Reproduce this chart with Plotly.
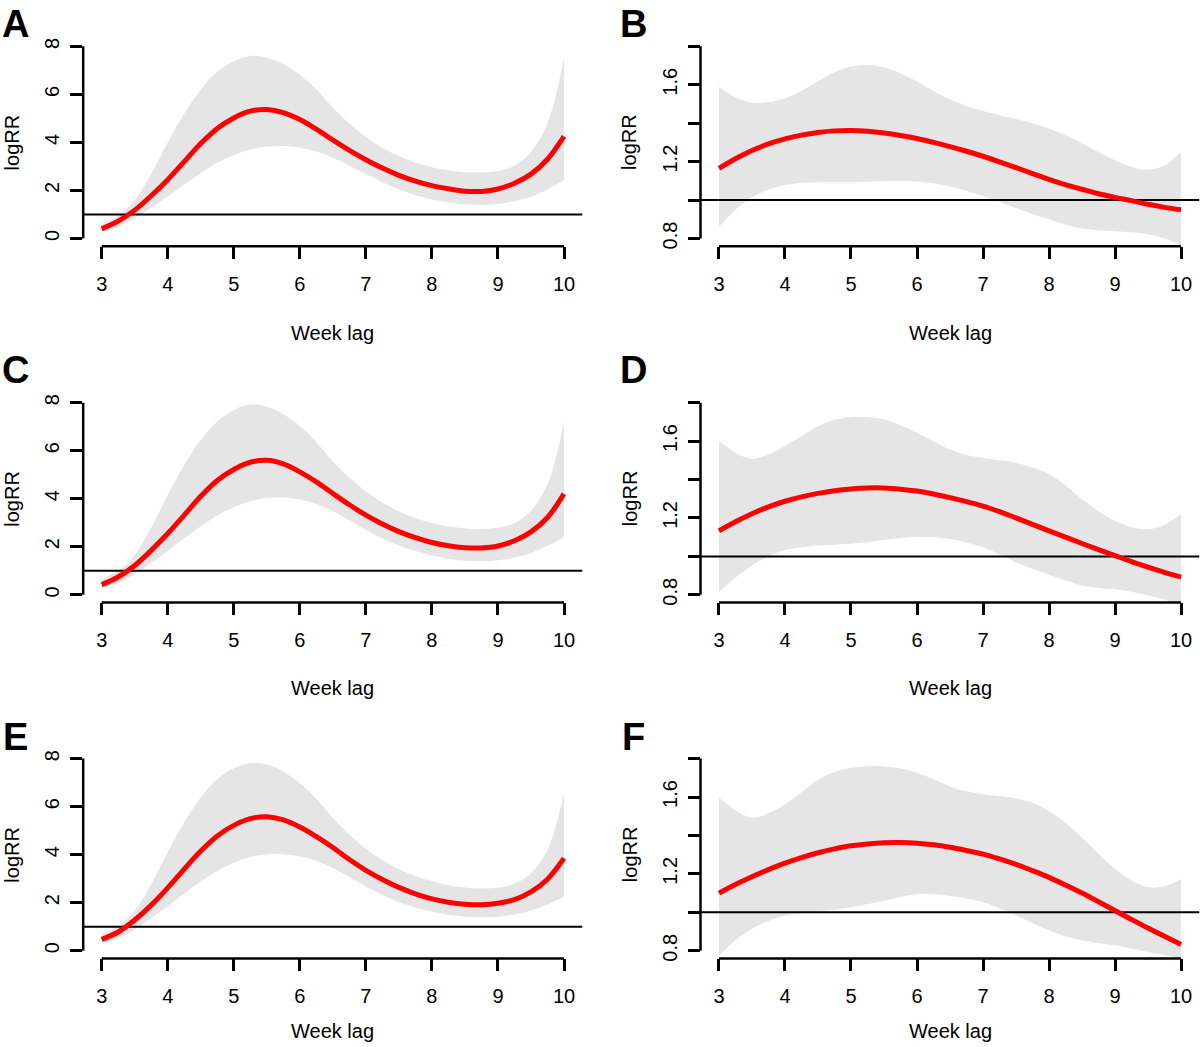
import plotly.graph_objects as go

# ---------------- data ----------------
week_lag = [3, 3.25, 3.5, 3.75, 4, 4.25, 4.5, 4.75, 5, 5.25, 5.5, 5.75, 6, 6.25, 6.5, 6.75,
            7, 7.25, 7.5, 7.75, 8, 8.25, 8.5, 8.75, 9, 9.25, 9.5, 9.75, 10]

# Panel A
a_fit   = [0.40, 0.72, 1.18, 1.78, 2.45, 3.20, 3.95, 4.58, 5.02, 5.30, 5.37, 5.24, 4.95, 4.55, 4.10, 3.67,
           3.28, 2.93, 2.63, 2.39, 2.20, 2.07, 1.97, 1.96, 2.06, 2.30, 2.68, 3.30, 4.25]
a_upper = [0.60, 0.95, 1.60, 2.70, 4.00, 5.20, 6.20, 6.95, 7.38, 7.60, 7.52, 7.25, 6.82, 6.20, 5.45, 4.78,
           4.23, 3.78, 3.43, 3.16, 2.97, 2.84, 2.76, 2.75, 2.81, 3.03, 3.60, 4.80, 7.50]
a_lower = [0.28, 0.50, 0.85, 1.28, 1.75, 2.25, 2.72, 3.15, 3.47, 3.70, 3.82, 3.85, 3.78, 3.62, 3.36, 3.03,
           2.68, 2.34, 2.04, 1.80, 1.62, 1.50, 1.42, 1.40, 1.44, 1.55, 1.74, 2.04, 2.42]
# Panel B
b_fit   = [1.165, 1.215, 1.258, 1.292, 1.318, 1.338, 1.352, 1.360, 1.362, 1.358, 1.349, 1.336, 1.320, 1.300, 1.278, 1.254,
           1.228, 1.199, 1.169, 1.138, 1.108, 1.080, 1.056, 1.033, 1.014, 0.997, 0.978, 0.962, 0.949]
b_upper = [1.590, 1.535, 1.507, 1.510, 1.530, 1.568, 1.618, 1.665, 1.695, 1.703, 1.690, 1.660, 1.617, 1.568, 1.524, 1.490,
           1.463, 1.442, 1.422, 1.400, 1.372, 1.337, 1.296, 1.250, 1.207, 1.172, 1.158, 1.180, 1.250]
b_lower = [0.860, 0.950, 1.015, 1.055, 1.078, 1.090, 1.093, 1.093, 1.093, 1.095, 1.098, 1.099, 1.097, 1.088, 1.070, 1.047,
           1.020, 0.990, 0.958, 0.927, 0.900, 0.872, 0.852, 0.843, 0.838, 0.832, 0.822, 0.800, 0.765]
# Panel C
c_fit   = [0.42, 0.74, 1.22, 1.85, 2.55, 3.32, 4.10, 4.76, 5.22, 5.52, 5.60, 5.45, 5.12, 4.70, 4.22, 3.75,
           3.32, 2.95, 2.63, 2.38, 2.18, 2.04, 1.96, 1.95, 2.03, 2.25, 2.62, 3.22, 4.20]
c_upper = [0.65, 1.00, 1.65, 2.80, 4.15, 5.42, 6.45, 7.22, 7.70, 7.92, 7.84, 7.52, 7.03, 6.35, 5.55, 4.87,
           4.30, 3.84, 3.47, 3.19, 2.99, 2.85, 2.76, 2.74, 2.79, 2.99, 3.50, 4.60, 7.20]
c_lower = [0.28, 0.50, 0.86, 1.32, 1.82, 2.35, 2.85, 3.30, 3.65, 3.90, 4.03, 4.05, 3.97, 3.78, 3.48, 3.10,
           2.70, 2.35, 2.05, 1.82, 1.64, 1.50, 1.42, 1.40, 1.44, 1.54, 1.74, 2.04, 2.40]
# Panel D
d_fit   = [1.133, 1.180, 1.222, 1.258, 1.287, 1.310, 1.328, 1.342, 1.351, 1.356, 1.356, 1.350, 1.340, 1.325, 1.306, 1.285,
           1.262, 1.233, 1.200, 1.167, 1.133, 1.100, 1.067, 1.035, 1.004, 0.973, 0.944, 0.917, 0.892]
d_upper = [1.600, 1.540, 1.508, 1.530, 1.574, 1.625, 1.677, 1.710, 1.726, 1.725, 1.712, 1.682, 1.643, 1.598, 1.556, 1.528,
           1.513, 1.500, 1.487, 1.462, 1.427, 1.370, 1.297, 1.235, 1.185, 1.152, 1.142, 1.165, 1.220]
d_lower = [0.814, 0.890, 0.952, 1.000, 1.033, 1.048, 1.056, 1.061, 1.066, 1.074, 1.085, 1.096, 1.102, 1.099, 1.090, 1.072,
           1.047, 1.010, 0.969, 0.935, 0.904, 0.874, 0.848, 0.836, 0.829, 0.816, 0.797, 0.775, 0.745]
# Panel E
e_fit   = [0.47, 0.78, 1.28, 1.90, 2.62, 3.40, 4.15, 4.78, 5.22, 5.50, 5.58, 5.45, 5.15, 4.75, 4.30, 3.80,
           3.35, 2.97, 2.64, 2.37, 2.16, 2.02, 1.94, 1.92, 1.98, 2.13, 2.45, 2.98, 3.85]
e_upper = [0.70, 1.02, 1.65, 2.78, 4.10, 5.35, 6.38, 7.15, 7.60, 7.82, 7.75, 7.45, 6.98, 6.32, 5.53, 4.83,
           4.25, 3.78, 3.40, 3.11, 2.89, 2.73, 2.63, 2.59, 2.62, 2.80, 3.22, 4.20, 6.55]
e_lower = [0.30, 0.52, 0.88, 1.35, 1.85, 2.38, 2.88, 3.32, 3.66, 3.90, 4.02, 4.02, 3.93, 3.74, 3.45, 3.07,
           2.67, 2.32, 2.02, 1.80, 1.62, 1.50, 1.42, 1.39, 1.42, 1.51, 1.67, 1.93, 2.25]
# Panel F
f_fit   = [1.100, 1.145, 1.185, 1.222, 1.256, 1.285, 1.310, 1.330, 1.346, 1.356, 1.362, 1.363, 1.360, 1.352, 1.339, 1.322,
           1.303, 1.278, 1.250, 1.217, 1.182, 1.142, 1.100, 1.055, 1.009, 0.963, 0.918, 0.875, 0.833]
f_upper = [1.597, 1.530, 1.493, 1.515, 1.562, 1.625, 1.690, 1.730, 1.752, 1.760, 1.760, 1.748, 1.726, 1.692, 1.655, 1.630,
           1.614, 1.604, 1.594, 1.570, 1.527, 1.465, 1.390, 1.305, 1.225, 1.165, 1.130, 1.135, 1.173]
f_lower = [0.776, 0.855, 0.914, 0.955, 0.983, 0.996, 1.005, 1.015, 1.026, 1.042, 1.060, 1.080, 1.095, 1.094, 1.086, 1.072,
           1.052, 1.020, 0.983, 0.944, 0.905, 0.876, 0.854, 0.840, 0.828, 0.812, 0.793, 0.776, 0.759]

panel_labels = ["A", "B", "C", "D", "E", "F"]
x_ticks = [3, 4, 5, 6, 7, 8, 9, 10]
left_y_ticks = [0, 2, 4, 6, 8]
left_y_text = ["0", "2", "4", "6", "8"]
right_y_ticks = [0.8, 1.0, 1.2, 1.4, 1.6, 1.8]
right_y_text = ["0.8", "", "1.2", "", "1.6", ""]
ref_value = 1.0
x_title = "Week lag"
y_title = "logRR"

# ---------------- layout helpers ----------------
W, H = 1200, 1047
FONT = "Liberation Sans, Arial, Helvetica, sans-serif"
RED = "#ff0000"
BAND = "#e5e5e5"

col_px = [(83.2, 582.5), (700.5, 1199.5)]
row_top_px = [37.8, 395.5, 752.8]
row_h = 208.3
x_title_px = [333, 690, 1034]
letter_y_px = [23, 370, 739]
letter_x_px = [15, 633]
ytitle_x_px = [12, 629.5]


def ext(lo, hi):
    d = (hi - lo) * 0.04
    return [lo - d, hi + d]


x_range = ext(min(x_ticks), max(x_ticks))

panels = [
    (a_fit, a_upper, a_lower, "left"),
    (b_fit, b_upper, b_lower, "right"),
    (c_fit, c_upper, c_lower, "left"),
    (d_fit, d_upper, d_lower, "right"),
    (e_fit, e_upper, e_lower, "left"),
    (f_fit, f_upper, f_lower, "right"),
]

fig = go.Figure()
shapes = []
annotations = []

for i, (fit, up, lo, kind) in enumerate(panels):
    n = i + 1
    xa = "x" if n == 1 else f"x{n}"
    ya = "y" if n == 1 else f"y{n}"
    row, col = divmod(i, 2)
    yt = left_y_ticks if kind == "left" else right_y_ticks
    ytxt = left_y_text if kind == "left" else right_y_text
    y_range = ext(min(yt), max(yt))

    # confidence band
    fig.add_trace(go.Scatter(x=week_lag, y=lo, mode="lines", line=dict(width=0, shape="spline", color=BAND),
                             xaxis=xa, yaxis=ya, showlegend=False, hoverinfo="skip"))
    fig.add_trace(go.Scatter(x=week_lag, y=up, mode="lines", line=dict(width=0, shape="spline", color=BAND),
                             fill="tonexty", fillcolor=BAND,
                             xaxis=xa, yaxis=ya, showlegend=False, hoverinfo="skip"))
    # reference line
    fig.add_trace(go.Scatter(x=x_range, y=[ref_value, ref_value], mode="lines",
                             line=dict(width=2, color="black"),
                             xaxis=xa, yaxis=ya, showlegend=False, hoverinfo="skip"))
    # fitted curve
    fig.add_trace(go.Scatter(x=week_lag, y=fit, mode="lines", line=dict(width=5, shape="spline", color=RED),
                             xaxis=xa, yaxis=ya, showlegend=False, hoverinfo="skip"))

    x0, x1 = col_px[col]
    top = row_top_px[row]
    bot = top + row_h
    axis_common = dict(showgrid=False, zeroline=False, showline=False, ticks="outside",
                       ticklen=12, tickwidth=2.5, tickcolor="black",
                       tickfont=dict(family=FONT, size=20, color="black"))
    fig.update_layout(**{
        ("xaxis" if n == 1 else f"xaxis{n}"): dict(
            domain=[x0 / W, x1 / W], range=x_range, anchor=ya,
            tickmode="array", tickvals=x_ticks, ticktext=[str(v) for v in x_ticks],
            ticklabelstandoff=8, **axis_common),
        ("yaxis" if n == 1 else f"yaxis{n}"): dict(
            domain=[1 - bot / H, 1 - top / H], range=y_range, anchor=xa,
            tickmode="array", tickvals=yt, ticktext=ytxt, tickangle=-90,
            ticklabelstandoff=3, **axis_common),
    })

    # R-style axis lines spanning only the tick range
    shapes.append(dict(type="line", xref=f"{xa} domain", yref=ya, x0=0, x1=0,
                       y0=min(yt), y1=max(yt), line=dict(color="black", width=2.5), layer="above"))
    shapes.append(dict(type="line", xref=xa, yref=f"{ya} domain", x0=min(x_ticks), x1=max(x_ticks),
                       y0=0, y1=0, line=dict(color="black", width=2.5), layer="above"))

    # axis titles
    annotations.append(dict(text=x_title, xref="paper", yref="paper", x=(x0 + x1) / 2 / W,
                            y=1 - x_title_px[row] / H, showarrow=False, xanchor="center", yanchor="middle",
                            font=dict(family=FONT, size=20, color="black")))
    annotations.append(dict(text=y_title, xref="paper", yref="paper", x=ytitle_x_px[col] / W,
                            y=1 - (top + bot) / 2 / H, showarrow=False, textangle=-90,
                            xanchor="center", yanchor="middle",
                            font=dict(family=FONT, size=20, color="black")))
    # panel letter
    annotations.append(dict(text=f"<b>{panel_labels[i]}</b>", xref="paper", yref="paper",
                            x=letter_x_px[col] / W, y=1 - letter_y_px[row] / H, showarrow=False,
                            xanchor="center", yanchor="middle",
                            font=dict(family=FONT, size=38, color="black")))

fig.update_layout(width=W, height=H, margin=dict(l=0, r=0, t=0, b=0),
                  paper_bgcolor="white", plot_bgcolor="white",
                  shapes=shapes, annotations=annotations, showlegend=False)

fig.write_html("out.html", config={"displayModeBar": False},
               post_script="document.body.style.margin='0';document.body.style.padding='0';"
                           "document.body.style.overflow='hidden';")
